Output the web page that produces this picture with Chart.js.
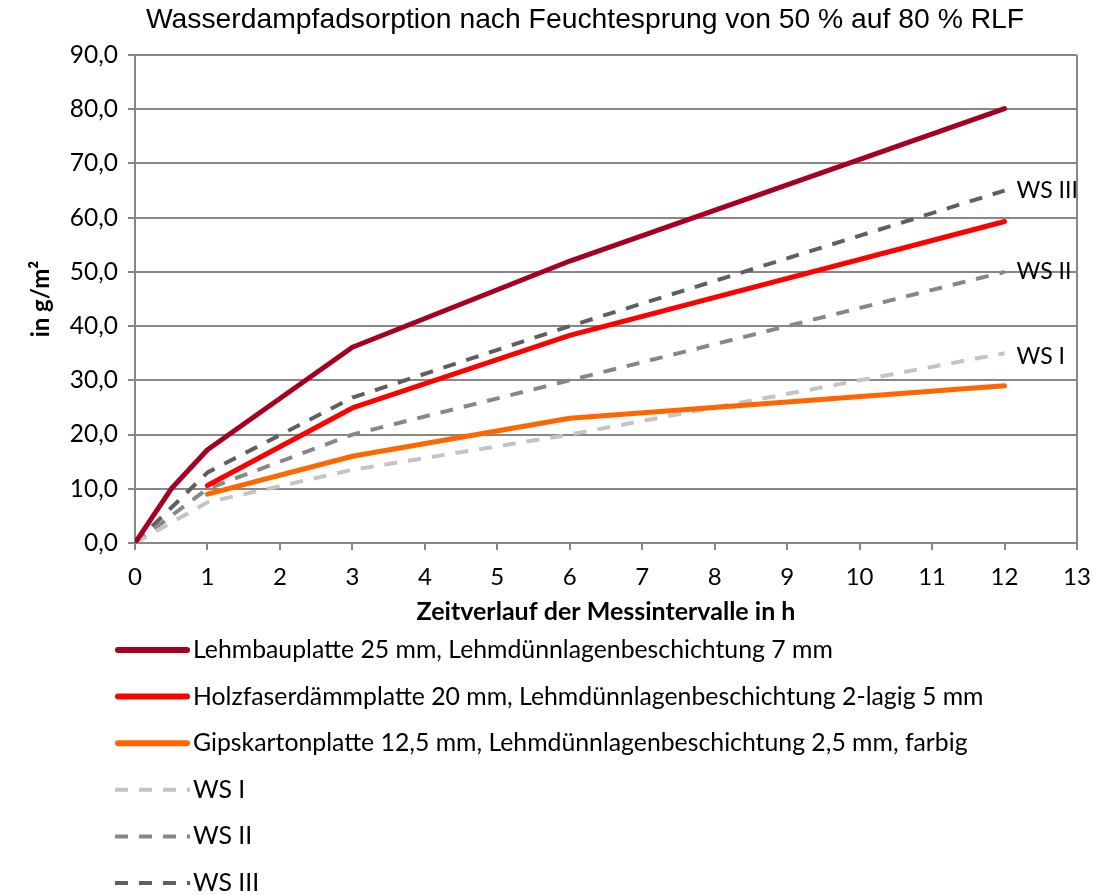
<!DOCTYPE html>
<html lang="de">
<head>
<meta charset="utf-8">
<title>Wasserdampfadsorption</title>
<script src="https://cdn.jsdelivr.net/npm/chart.js@4"></script>
<style>
  html, body { margin: 0; padding: 0; background: #fff; }
  #wrap { width: 1119px; height: 895px; position: relative; }
</style>
</head>
<body>
<div id="wrap"><canvas id="chart" width="1119" height="895"></canvas></div>
<script>
// Messzeitpunkte in Stunden
const hoursLehm = [0, 0.5, 1, 3, 6, 12];
const hoursCoated = [1, 3, 6, 12];
const hoursWS = [0, 1, 3, 6, 12];

// Sorbierte Wasserdampfmenge in g/m²
const lehmbauplatte = [0, 10.0, 17.2, 36.1, 52.0, 80.1];
const holzfaser = [10.6, 24.9, 38.3, 59.3];
const gipskarton = [9.0, 16.0, 23.0, 29.0];
const wsI = [0, 7.5, 13.5, 20.0, 35.0];
const wsII = [0, 10.0, 20.0, 30.0, 50.0];
const wsIII = [0, 13.0, 26.8, 40.0, 65.0];

const seriesNames = [
  'Lehmbauplatte 25 mm, Lehmdünnlagenbeschichtung 7 mm',
  'Holzfaserdämmplatte 20 mm, Lehmdünnlagenbeschichtung 2-lagig 5 mm',
  'Gipskartonplatte 12,5 mm, Lehmdünnlagenbeschichtung 2,5 mm, farbig',
  'WS I',
  'WS II',
  'WS III'
];
const endLabels = ['WS I', 'WS II', 'WS III'];

const chartTitle = 'Wasserdampfadsorption nach Feuchtesprung von 50 % auf 80 % RLF';
const xTitle = 'Zeitverlauf der Messintervalle in h';
const yTitle = 'in g/m²';

const toPoints = (xs, ys) => xs.map((x, i) => ({ x: x, y: ys[i] }));

const TEXT_FONT = 'Lato, "DejaVu Sans", sans-serif';
const GRID = '#878787';
const DASH = [13, 11];

const solid = (label, xs, ys, color) => ({
  label, data: toPoints(xs, ys), borderColor: color, backgroundColor: color,
  borderWidth: 5, borderCapStyle: 'round', borderJoinStyle: 'round',
  pointRadius: 0, tension: 0, fill: false
});
const dashed = (label, xs, ys, color) => ({
  label, data: toPoints(xs, ys), borderColor: color, backgroundColor: color,
  borderWidth: 4, borderDash: DASH, borderCapStyle: 'butt',
  pointRadius: 0, tension: 0, fill: false
});

const datasets = [
  solid(seriesNames[0], hoursLehm, lehmbauplatte, '#A50021'),
  solid(seriesNames[1], hoursCoated, holzfaser, '#FF0000'),
  solid(seriesNames[2], hoursCoated, gipskarton, '#FF6600'),
  dashed(seriesNames[3], hoursWS, wsI, '#C4C4C4'),
  dashed(seriesNames[4], hoursWS, wsII, '#878787'),
  dashed(seriesNames[5], hoursWS, wsIII, '#5F5F5F')
];

// Titel, rechter Rahmen, Beschriftung der WS-Kurven und Legende
const decorations = {
  id: 'decorations',
  afterDraw(chart) {
    const { ctx, chartArea, scales } = chart;
    ctx.save();

    // rechter Rahmen der Zeichenfläche
    ctx.strokeStyle = GRID;
    ctx.lineWidth = 2;
    ctx.beginPath();
    ctx.moveTo(chartArea.right, chartArea.top);
    ctx.lineTo(chartArea.right, chartArea.bottom);
    ctx.stroke();

    // Diagrammtitel
    ctx.fillStyle = '#000';
    ctx.font = '28.3px "Liberation Sans", Arial, sans-serif';
    ctx.textAlign = 'center';
    ctx.textBaseline = 'alphabetic';
    ctx.fillText(chartTitle, 585, 28);

    // Beschriftung am Kurvenende
    ctx.font = '23px ' + TEXT_FONT;
    ctx.textAlign = 'left';
    ctx.textBaseline = 'middle';
    [3, 4, 5].forEach((di, k) => {
      const ds = chart.data.datasets[di];
      const last = ds.data[ds.data.length - 1];
      const px = scales.x.getPixelForValue(last.x);
      const py = scales.y.getPixelForValue(last.y);
      ctx.fillText(endLabels[k], px + 12, py + (k === 0 ? 3 : 0));
    });

    // Legende (einspaltig unter dem Diagramm)
    const rowY = 650;
    const rowStep = 46.6;
    ctx.font = '24.8px ' + TEXT_FONT;
    chart.data.datasets.forEach((ds, i) => {
      const y = rowY + i * rowStep;
      const isDashed = !!ds.borderDash;
      ctx.strokeStyle = ds.borderColor;
      ctx.lineWidth = isDashed ? 4 : 6;
      ctx.lineCap = isDashed ? 'butt' : 'round';
      ctx.setLineDash(isDashed ? DASH : []);
      ctx.beginPath();
      ctx.moveTo(isDashed ? 115 : 118, y);
      ctx.lineTo(isDashed ? 190 : 187, y);
      ctx.stroke();
      ctx.setLineDash([]);
      ctx.fillStyle = '#000';
      ctx.textAlign = 'left';
      ctx.textBaseline = 'middle';
      ctx.fillText(ds.label, 193, y);
    });
    ctx.restore();
  }
};

new Chart(document.getElementById('chart'), {
  type: 'line',
  data: { datasets },
  options: {
    responsive: false,
    animation: false,
    layout: { padding: { top: 55, right: 42, bottom: 262, left: 0 } },
    plugins: { legend: { display: false }, title: { display: false }, tooltip: { enabled: false } },
    scales: {
      x: {
        type: 'linear', min: 0, max: 13,
        afterFit(scale) { scale.height = 90; },
        ticks: { stepSize: 1, color: '#000', font: { family: TEXT_FONT, size: 24 }, padding: 13, maxRotation: 0 },
        grid: { drawOnChartArea: false, drawTicks: true, tickLength: 7, color: GRID, lineWidth: 2 },
        border: { color: GRID, width: 2 },
        title: { display: true, text: xTitle, color: '#000', font: { family: TEXT_FONT, size: 25, weight: 'bold' }, padding: { top: 0, bottom: 6 } }
      },
      y: {
        type: 'linear', min: 0, max: 90,
        afterFit(scale) { scale.width = 135; },
        ticks: {
          stepSize: 10, color: '#000', font: { family: TEXT_FONT, size: 24.5 }, padding: 10,
          callback: v => v.toFixed(1).replace('.', ',')
        },
        grid: { color: GRID, lineWidth: 2, tickLength: 7 },
        border: { color: GRID, width: 2 },
        title: { display: true, text: yTitle, color: '#000', font: { family: TEXT_FONT, size: 24, weight: 'bold' }, padding: { top: 27, bottom: 0 } }
      }
    }
  },
  plugins: [decorations]
});
</script>
</body>
</html>
